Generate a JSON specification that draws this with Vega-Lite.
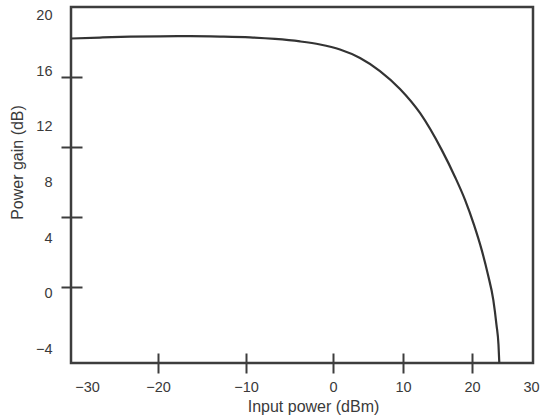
{
  "$schema": "https://vega.github.io/schema/vega-lite/v6.json",
  "width": 462,
  "height": 356,
  "autosize": {"type": "none"},
  "padding": {"left": 71, "top": 7, "right": 9, "bottom": 55},
  "background": "white",
  "config": {
    "view": {"stroke": "#3d3d3d", "strokeWidth": 2.5},
    "font": "Liberation Sans"
  },
  "data": {
    "values": [
      {"input_dBm": -32.25, "gain_dB": 18.37},
      {"input_dBm": -28.17, "gain_dB": 18.44},
      {"input_dBm": -23.94, "gain_dB": 18.5},
      {"input_dBm": -19.77, "gain_dB": 18.53},
      {"input_dBm": -16.36, "gain_dB": 18.54},
      {"input_dBm": -12.95, "gain_dB": 18.51},
      {"input_dBm": -9.54, "gain_dB": 18.45},
      {"input_dBm": -6.67, "gain_dB": 18.34},
      {"input_dBm": -3.79, "gain_dB": 18.16},
      {"input_dBm": -1.49, "gain_dB": 17.94},
      {"input_dBm": 1.0, "gain_dB": 17.58},
      {"input_dBm": 3.86, "gain_dB": 16.97},
      {"input_dBm": 6.71, "gain_dB": 16.03},
      {"input_dBm": 9.57, "gain_dB": 14.74},
      {"input_dBm": 12.46, "gain_dB": 13.01},
      {"input_dBm": 15.61, "gain_dB": 10.35},
      {"input_dBm": 17.54, "gain_dB": 8.4},
      {"input_dBm": 18.99, "gain_dB": 6.75},
      {"input_dBm": 20.34, "gain_dB": 4.95},
      {"input_dBm": 21.64, "gain_dB": 3.15},
      {"input_dBm": 22.71, "gain_dB": 1.35},
      {"input_dBm": 23.61, "gain_dB": -0.45},
      {"input_dBm": 24.15, "gain_dB": -2.25},
      {"input_dBm": 24.49, "gain_dB": -3.69},
      {"input_dBm": 24.63, "gain_dB": -5.0}
    ]
  },
  "mark": {"type": "line", "interpolate": "monotone", "color": "#333333", "strokeWidth": 2.2, "clip": true},
  "encoding": {
    "x": {
      "field": "input_dBm",
      "type": "quantitative",
      "scale": {"domain": [-32.25, -20, -10, 0, 10, 20, 30.34], "range": [0, 87, 175, 262, 332, 401, 462], "nice": false, "zero": false},
      "axis": {
        "values": [-30, -20, -10, 0, 10, 20, 30],
        "format": "d",
        "title": "Input power (dBm)",
        "domain": false,
        "grid": false,
        "offset": -10,
        "tickSize": 20,
        "tickWidth": 2,
        "tickColor": "#3d3d3d",
        "tickOpacity": {"condition": {"test": "abs(datum.value) < 25", "value": 1}, "value": 0},
        "labelPadding": 7,
        "labelFontSize": 14.5,
        "labelColor": "#3a3a3a",
        "labelFlush": false,
        "labelOverlap": false,
        "titleFontSize": 16,
        "titleFontWeight": "normal",
        "titleColor": "#3a3a3a",
        "titlePadding": 5,
        "titleX": 242
      }
    },
    "y": {
      "field": "gain_dB",
      "type": "quantitative",
      "scale": {"domain": [-5, 20.64], "nice": false, "zero": false},
      "axis": {
        "values": [20, 16, 12, 8, 4, 0, -4, 15.6, 10.56, 5.52, 0.48],
        "format": "d",
        "labelExpr": "indexof([20,16,12,8,4,0,-4], datum.value) >= 0 ? datum.label : ''",
        "title": "Power gain (dB)",
        "domain": false,
        "grid": false,
        "offset": -11,
        "tickSize": 21,
        "tickWidth": 2,
        "tickColor": "#3d3d3d",
        "tickOpacity": {"condition": {"test": "indexof([20,16,12,8,4,0,-4], datum.value) < 0", "value": 1}, "value": 0},
        "labelPadding": 9,
        "labelFontSize": 14.5,
        "labelColor": "#3a3a3a",
        "labelFlush": false,
        "labelOverlap": false,
        "titleFontSize": 16,
        "titleFontWeight": "normal",
        "titleColor": "#3a3a3a",
        "titlePadding": 10,
        "titleY": 155
      }
    }
  }
}
